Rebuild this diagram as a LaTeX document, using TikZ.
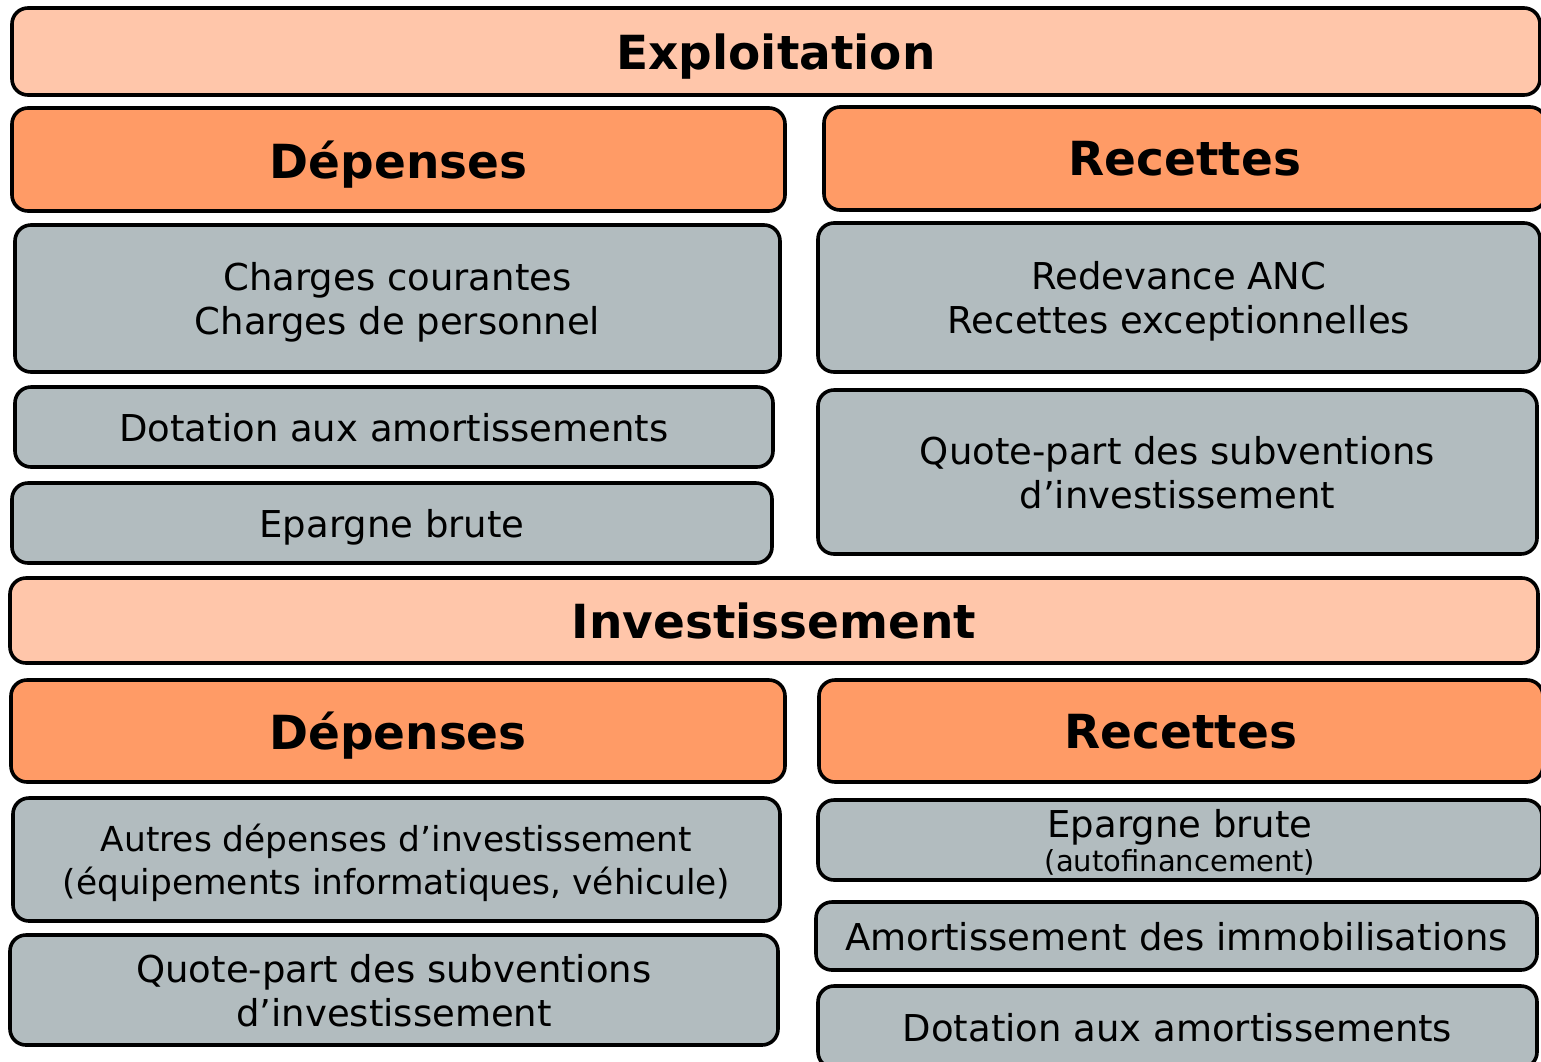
\documentclass[tikz,border=0pt]{standalone}
\usepackage{fontspec}
\setmainfont{DejaVu Sans}
\usepackage{xcolor}
\definecolor{peach}{RGB}{255,198,170}
\definecolor{sidehead}{RGB}{255,155,102}
\definecolor{itemgrey}{RGB}{178,188,191}

\begin{document}
\begin{tikzpicture}[
    x=0.5pt, y=-0.5pt,
    box/.style={rectangle, rounded corners=8pt, draw=black, line width=1.8pt, inner sep=0pt, align=center, text depth=0pt},
    section/.style={box, fill=peach, font=\bfseries\fontsize{23.5}{28}\selectfont},
    side/.style={box, fill=sidehead, font=\bfseries\fontsize{23.5}{28}\selectfont},
    item/.style={box, fill=itemgrey, font=\fontsize{18.5}{22}\selectfont}
]
\useasboundingbox (0,0) rectangle (1541,1061);

% Exploitation
\node[section, minimum width=764pt, minimum height=43.5pt] (expl) at (776,51.5) {Exploitation};
\node[side, minimum width=386.5pt, minimum height=51.5pt] (depE) at (398.5,159.5) {Dépenses};
\node[side, minimum width=361pt, minimum height=51.5pt] (recE) at (1185,158.5) {Recettes};

% Exploitation: depenses
\node[item, minimum width=382.5pt, minimum height=73.5pt] (charges) at (397.5,298.5) {Charges courantes\\Charges de personnel};
\node[item, minimum width=379pt, minimum height=40pt] (dotE) at (394,427) {Dotation aux amortissements};
\node[item, minimum width=380pt, minimum height=40pt] (epargE) at (392,523) {Epargne brute};

% Exploitation: recettes
\node[item, minimum width=361pt, minimum height=74.5pt] (redev) at (1179,297.5) {Redevance ANC\\Recettes exceptionnelles};
\node[item, minimum width=359.5pt, minimum height=82pt] (quoteE) at (1177.5,472) {Quote-part des subventions\\d’investissement};

% Investissement
\node[section, minimum width=764pt, minimum height=42.5pt] (invest) at (774,620.5) {Investissement};
\node[side, minimum width=387pt, minimum height=51pt] (depI) at (398,731) {Dépenses};
\node[side, minimum width=362pt, minimum height=51pt] (recI) at (1181,731) {Recettes};

% Investissement: depenses
\node[item, font=\fontsize{17.2}{21.5}\selectfont, minimum width=383.5pt, minimum height=61.5pt] (autres) at (396.5,859.5) {Autres dépenses d’investissement\\(équipements informatiques, véhicule)};
\node[item, minimum width=384pt, minimum height=55pt] (quoteI) at (394,990) {Quote-part des subventions\\d’investissement};

% Investissement: recettes
\node[item, minimum width=362pt, minimum height=40pt] (epargI) at (1180,840) {Epargne brute\\[-5pt]{\fontsize{14.5}{16.5}\selectfont(autofinancement)}};
\node[item, minimum width=360.5pt, minimum height=34pt] (amort) at (1176.5,936) {Amortissement des immobilisations};
\node[item, minimum width=359.5pt, minimum height=41pt] (dotI) at (1177.5,1027) {Dotation aux amortissements};
\end{tikzpicture}
\end{document}
